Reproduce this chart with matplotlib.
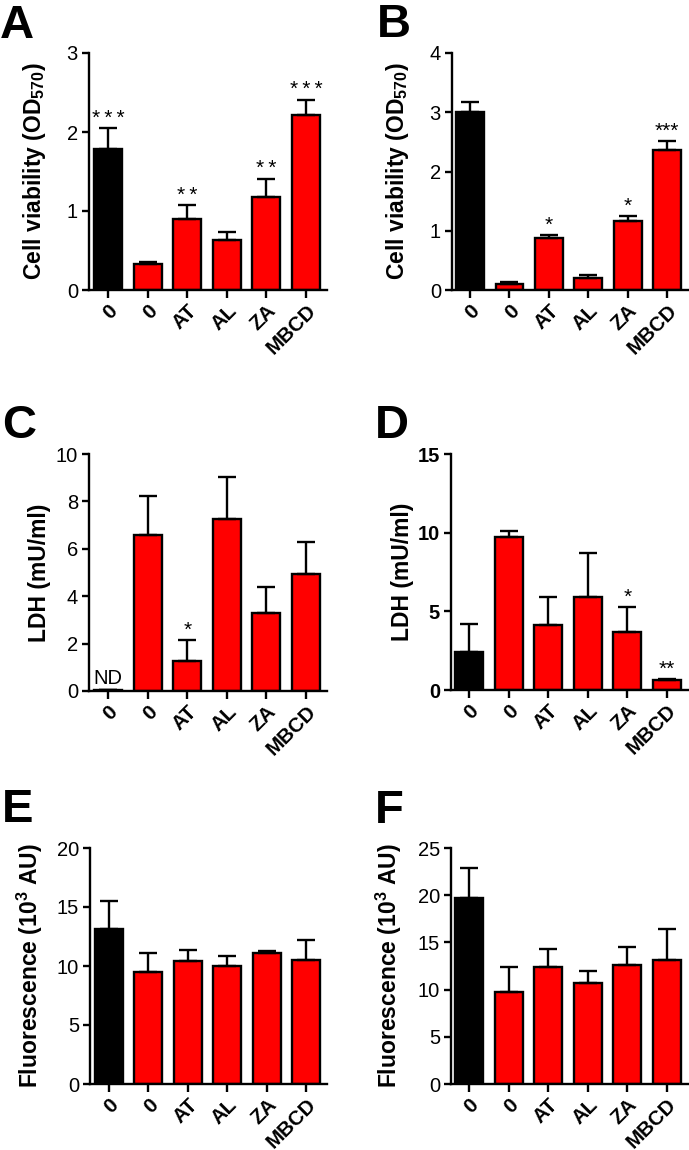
import matplotlib.pyplot as plt
import numpy as np

plt.rcParams['font.family'] = ['Liberation Sans', 'DejaVu Sans']
plt.rcParams['mathtext.fontset'] = 'custom'
plt.rcParams['mathtext.rm'] = 'Liberation Sans'
plt.rcParams['mathtext.bf'] = 'Liberation Sans:bold'

GROUPS = ['0', '0', 'AT', 'AL', 'ZA', 'MBCD']
COLORS = ['black', 'red', 'red', 'red', 'red', 'red']

# panel A - cell viability
A_MEAN = [1.78, 0.33, 0.90, 0.63, 1.18, 2.21]
A_ERR = [0.27, 0.03, 0.18, 0.105, 0.23, 0.20]
A_STARS = ['*\u2009*\u2009*', '', '*\u2009*', '', '*\u2009*', '*\u2009*\u2009*']

# panel B - cell viability
B_MEAN = [3.01, 0.10, 0.87, 0.21, 1.17, 2.36]
B_ERR = [0.16, 0.035, 0.05, 0.05, 0.08, 0.15]
B_STARS = ['', '', '*', '', '*', '***']

# panel C - LDH (control not detected)
C_MEAN = [0.04, 6.58, 1.27, 7.24, 3.30, 4.93]
C_ERR = [0.0, 1.63, 0.90, 1.79, 1.09, 1.34]
C_STARS = ['', '', '*', '', '', '']

# panel D - LDH
D_MEAN = [2.44, 9.75, 4.11, 5.89, 3.69, 0.64]
D_ERR = [1.75, 0.33, 1.82, 2.82, 1.61, 0.08]
D_STARS = ['', '', '', '', '*', '**']

# panel E - fluorescence
E_MEAN = [13.13, 9.52, 10.42, 10.03, 11.07, 10.51]
E_ERR = [2.42, 1.58, 0.96, 0.84, 0.17, 1.69]

# panel F - fluorescence
F_MEAN = [19.72, 9.79, 12.39, 10.67, 12.61, 13.13]
F_ERR = [3.20, 2.64, 1.87, 1.27, 1.90, 3.24]

W, H = 689, 1150
fig = plt.figure(figsize=(W / 100, H / 100), dpi=100)


def px_axes(left, top, right, bottom):
    return fig.add_axes([left / W, 1 - bottom / H, (right - left) / W, (bottom - top) / H])


def bar_panel(ax, means, errs, ymax, yticks, ylabel, label_px, stars=None, bold_ticks=False,
              xlim=(-0.48, 5.53)):
    x = np.arange(len(GROUPS))
    ax.bar(x, means, width=0.71, color=COLORS, edgecolor='black', linewidth=1.7, zorder=2)
    ax.errorbar(x, means, yerr=[np.zeros(len(errs)), errs], fmt='none', ecolor='black',
                elinewidth=1.7, capsize=6.5, capthick=1.7, zorder=3)
    if stars:
        for xi, m, e, s in zip(x, means, errs, stars):
            if s:
                ax.annotate(s, (xi, m + e), xytext=(0, 3), textcoords='offset points',
                            ha='center', va='baseline', fontsize=15)
    ax.set_ylim(0, ymax)
    ax.set_xlim(*xlim)
    ax.set_yticks(yticks)
    ax.set_yticklabels([str(t) for t in yticks], fontsize=14.5,
                       fontweight='bold' if bold_ticks else 'normal')
    ax.set_xticks(x)
    ax.set_xticklabels(GROUPS, rotation=45, ha='right', rotation_mode='anchor',
                       fontsize=14.8, fontweight='bold')
    ax.set_ylabel(ylabel, fontsize=16.5, fontweight='bold')
    # label anchor = right edge of the rotated label, in pixels left of the spine
    bbox = ax.get_position()
    ax.yaxis.set_label_coords(-label_px / (bbox.width * W), 0.5)
    for side in ['top', 'right']:
        ax.spines[side].set_visible(False)
    for side in ['left', 'bottom']:
        ax.spines[side].set_linewidth(1.7)
    ax.tick_params(axis='both', width=1.7, length=5, pad=3)
    ax.tick_params(axis='x', length=6, pad=2)
    ax.set_facecolor('none')


cv_label = r'Cell viability (OD$_{\mathbf{570}}$)'
ldh_label = 'LDH (mU/ml)'
fl_label = r'Fluorescence (10$^{\mathbf{3}}$ AU)'

ax_a = px_axes(89, 53, 327, 290)
bar_panel(ax_a, A_MEAN, A_ERR, 3, [0, 1, 2, 3], cv_label, 41, A_STARS)

ax_b = px_axes(452, 53, 689, 290)
bar_panel(ax_b, B_MEAN, B_ERR, 4, [0, 1, 2, 3, 4], cv_label, 41, B_STARS, xlim=(-0.46, 5.56))

ax_c = px_axes(89, 454, 327, 691)
bar_panel(ax_c, C_MEAN, C_ERR, 10, [0, 2, 4, 6, 8, 10], ldh_label, 38, C_STARS)
ax_c.annotate('ND', (0, 0), xytext=(0, 5), textcoords='offset points',
              ha='center', va='baseline', fontsize=14.5)

ax_d = px_axes(451, 454, 689, 690)
bar_panel(ax_d, D_MEAN, D_ERR, 15, [0, 5, 10, 15], ldh_label, 37, D_STARS, bold_ticks=True,
          xlim=(-0.46, 5.56))

ax_e = px_axes(90, 848, 327, 1084)
bar_panel(ax_e, E_MEAN, E_ERR, 20, [0, 5, 10, 15, 20], fl_label, 45)

ax_f = px_axes(451, 848, 689, 1084)
bar_panel(ax_f, F_MEAN, F_ERR, 25, [0, 5, 10, 15, 20, 25], fl_label, 47, xlim=(-0.46, 5.56))

# panel letters
for letter, lx, ly in [('A', 0, 38), ('B', 377, 37), ('C', 2, 438),
                       ('D', 375, 438), ('E', 2, 822), ('F', 375, 823)]:
    fig.text(lx / W, 1 - ly / H, letter, fontsize=34, fontweight='bold',
             ha='left', va='baseline')

fig.savefig('out.png', dpi=100)
